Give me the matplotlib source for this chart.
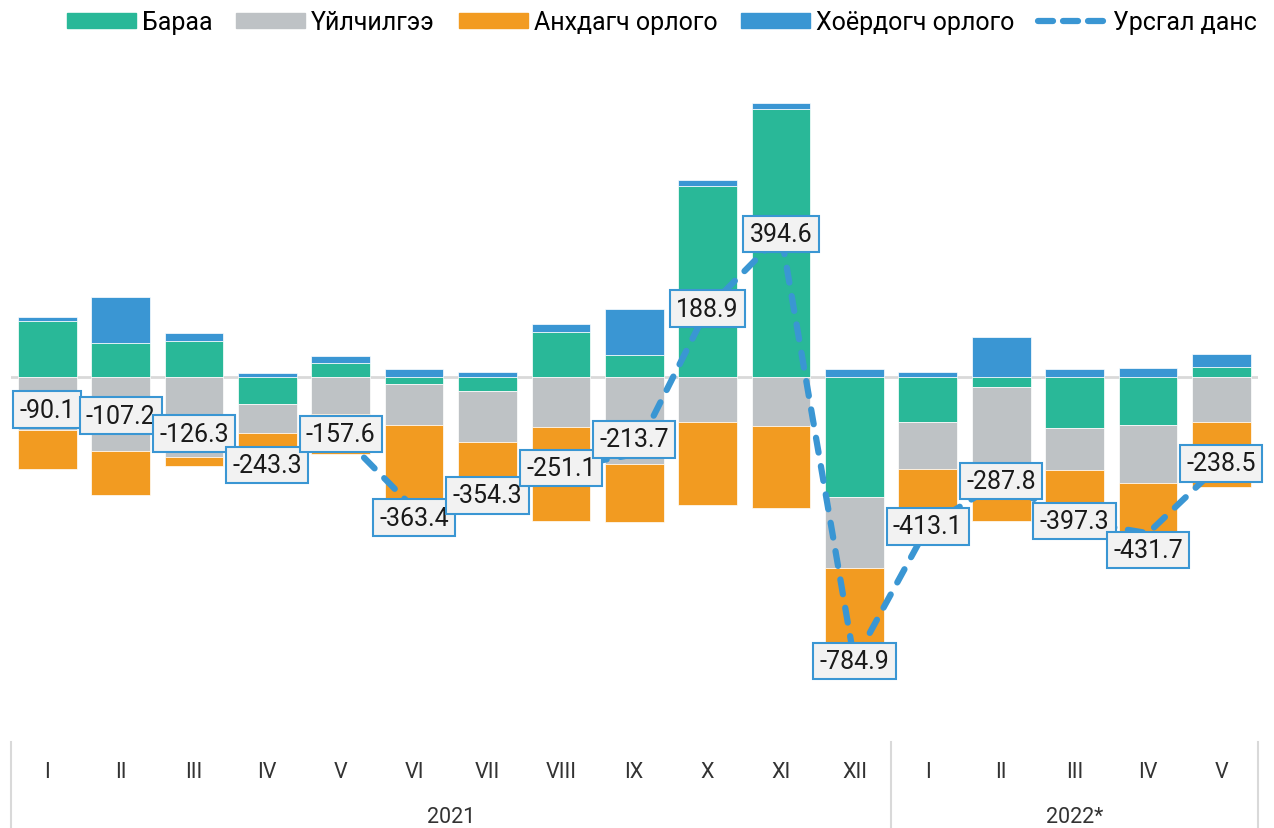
import numpy as np
import matplotlib.pyplot as plt
from matplotlib.transforms import blended_transform_factory
from matplotlib.lines import Line2D
from matplotlib.patches import Patch

plt.rcParams['font.family'] = ['Roboto', 'DejaVu Sans']

months = ['I', 'II', 'III', 'IV', 'V', 'VI', 'VII', 'VIII', 'IX', 'X', 'XI', 'XII',
          'I', 'II', 'III', 'IV', 'V']
years = ['2021', '2022*']
year_len = [12, 5]

goods = [154.7, 94.5, 100, -74, 37.3, -20.7, -40, 124.8, 61.3, 526, 738.8, -332.8,
         -125.7, -29, -142.2, -134, 28.2]
services = [-145.6, -205, -221, -81, -103.6, -112.4, -140, -138.7, -241.7, -125.7, -136.7, -196,
            -129.8, -240, -115.2, -159.4, -124.8]
primary = [-110, -121.7, -25.3, -98.3, -110.6, -251, -188.7, -259.2, -159.3, -228, -224.1, -278.7,
           -170.9, -128.8, -162.5, -163.7, -177.9]
secondary = [11, 125, 20, 10, 19.3, 20.7, 14.4, 22, 126, 16.6, 16.6, 22.6,
             13.3, 110, 22.6, 25.4, 36]
current = [-90.1, -107.2, -126.3, -243.3, -157.6, -363.4, -354.3, -251.1, -213.7, 188.9, 394.6, -784.9,
           -413.1, -287.8, -397.3, -431.7, -238.5]
# manual label shifts (value units) where labels were moved off the point
label_shift = [0, 0, -30, 0, 0, -25, 27, 0, 41, 0, 0, 0, 0, 0, 0, -47, 0]

names = ['Бараа', 'Үйлчилгээ', 'Анхдагч орлого', 'Хоёрдогч орлого']
colors = ['#29B898', '#BEC2C5', '#F29B21', '#3A96D3']
line_color = '#3A96D3'

fig = plt.figure(figsize=(12.74, 8.29), dpi=100)
ax = fig.add_axes([10.5 / 1274, 1 - 740 / 829, (1258 - 10.5) / 1274, (740 - 60) / 829])

x = np.arange(len(months))
pos = np.zeros(len(x))
neg = np.zeros(len(x))
for vals, c in zip([goods, services, primary, secondary], colors):
    v = np.array(vals)
    bottom = np.where(v >= 0, pos, neg)
    ax.bar(x, v, 0.8, bottom=bottom, color=c, edgecolor='white', linewidth=0.5, zorder=2)
    pos += np.where(v >= 0, v, 0)
    neg += np.where(v < 0, v, 0)

ax.axhline(0, color='#D9D9D9', lw=2, zorder=1)

ax.plot(x, current, color=line_color, lw=4.5, ls=(0, (2.4, 2.2)),
        dash_capstyle='round', zorder=3)

for xi, v, s in zip(x, current, label_shift):
    ax.text(xi, v + s, f'{v:.1f}', ha='center', va='center', fontsize=18,
            color='#1A1A1A', zorder=4,
            bbox=dict(boxstyle='square,pad=0.25', fc='#F2F2F2', ec=line_color, lw=1.5))

ax.set_xlim(-0.5, len(x) - 0.5)
ax.set_ylim(-1000, 878)
ax.axis('off')

tr = blended_transform_factory(ax.transData, fig.transFigure)
for xi, m in zip(x, months):
    ax.text(xi, 1 - 773 / 829, m, transform=tr, ha='center', va='center',
            fontsize=15.5, color='#333333')
start = 0
for yname, n in zip(years, year_len):
    ax.text(start + (n - 1) / 2, 1 - 818 / 829, yname, transform=tr, ha='center',
            va='center', fontsize=15.5, color='#333333')
    start += n
for bx in [-0.5, 11.5, len(x) - 0.5]:
    ax.plot([bx, bx], [1 - 743 / 829, 0], transform=tr, color='#D9D9D9', lw=1.5,
            clip_on=False)

handles = [Patch(color=c) for c in colors]
handles.append(Line2D([], [], color=line_color, lw=4.5, ls=(0, (2.4, 1.6)),
                      dash_capstyle='round'))
fig.legend(handles, names + ['Урсгал данс'], loc='center', bbox_to_anchor=(662 / 1274, 1 - 23 / 829),
           ncol=5, frameon=False, fontsize=18, handlelength=2.75, handletextpad=0.25,
           columnspacing=0.95, borderaxespad=0, handleheight=0.55)

fig.savefig('out.png', dpi=100)
